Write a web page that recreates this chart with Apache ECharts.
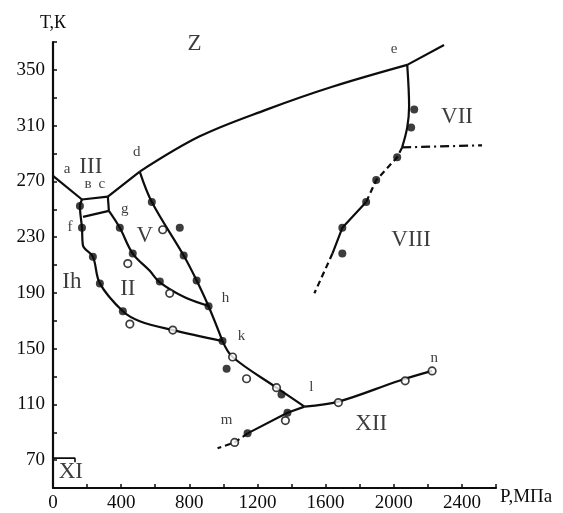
<!DOCTYPE html>
<html><head><meta charset="utf-8">
<script src="https://cdn.jsdelivr.net/npm/echarts@6/dist/echarts.min.js"></script>
<style>html,body{margin:0;padding:0;background:#fff}#c{width:563px;height:513px}</style>
</head><body><div id="c"></div>
<script>
// ---- data (P in MPa, T in K) ----
const xTicks = [0, 400, 800, 1200, 1600, 2000, 2400];
const yTicks = [70, 110, 150, 190, 230, 270, 310, 350];

const lineAB = [[0,274],[170,257]];
const lineBC = [[170,257],[322,259]];
const lineCD = [[322,259],[509,277]];
const lineDE = [[509,277],[861,302.3],[1253,321.5],[1639,337.9],[2079,353.6]];
const lineEEnd = [[2079,353.6],[2295,367.9]];
const lineEDown = [[2079,353.6],[2090,323.7],[2079,308.7],[2049,294.4]];
const lineVIIVIII = [[2049,294.4],[2518,295.9]];
const lineVIIIa = [[2049,294.4],[2020,287.3],[1897,270.9],[1838,255.2]];
const lineVIIIb = [[1838,255.2],[1698,236.7],[1640,218.2]];
const lineVIIIc = [[1640,218.2],[1534,189.7]];
const lineIhII = [[170,257],[158,252.4],[170,236.7],[176,224],[234,216],[275,196.8],[410,176.8],[509,169.7],[703,163.3],[995,155.4]];
const lineFG = [[176,244.5],[328,248.8]];
const lineCG = [[322,259],[328,248.8]];
const lineGH = [[328,248.8],[392,236.7],[468,218.2],[568,205.8],[627,197.5],[773,186.8],[919,180.4]];
const lineDK = [[509,277],[580,255.2],[767,216.8],[843,198.9],[913,180.4],[995,155.4]];
const lineKL = [[995,155.4],[1054,144],[1312,122],[1476,108.4]];
const lineLN = [[1476,108.4],[1675,112],[2032,127],[2225,134]];
const lineLM = [[1476,108.4],[1376,104],[1142,89.2]];
const lineMTail = [[1142,89.2],[1066,82.7],[966,78.5]];
const lineXI = [[0,71.4],[129,71.4],[129,68.5]];

const filledPts = [[158,252.4],[170,236.7],[234,216],[275,196.8],[410,176.8],[995,155.4],
  [580,255.2],[744,236.7],[392,236.7],[468,218.2],[627,198.2],[767,216.8],[843,198.9],[913,180.4],
  [1019,135.5],[1341,117],[1376,104],[1142,89.2],
  [2120,321.5],[2102,308.7],[2020,287.3],[1897,270.9],[1838,255.2],[1698,236.7],[1698,218.2]];
const openPts = [[644,235.3],[439,211],[685,189.7],[451,167.6],[703,163.3],[1054,144],[1136,128.4],
  [1312,122],[1364,98.4],[1066,82.7],[1675,111.3],[2067,126.9],[2225,134]];

const phaseLabels = [['Z',831,368.6],['III',222,280],['V',539,231],['Ih',111,198],['II',439,193],
  ['XII',1868,95.6],['VII',2371,316.5],['VIII',2102,228],['XI',105,61.4]];
const pointLabels = [['a',82,279],['в',205,268],['c',287,268],['d',492,291],['e',2002,365],
  ['g',421,250],['f',100,237.4],['h',1013,186],['k',1107,159],['l',1516,122.7],['m',1019,99],['n',2237,143.3]];

// ---- chart ----
const FONT = 'Liberation Serif';
const INK = '#0d0d0d';
function ln(data, opts) {
  return Object.assign({type:'line', data, symbol:'none', clip:false, silent:true,
    lineStyle:{color:INK, width:2.2}}, opts||{});
}
const smooth = {smooth:0.35};
const series = [
  ln(lineAB), ln(lineBC), ln(lineCD), ln(lineDE, smooth), ln(lineEEnd), ln(lineEDown, smooth),
  ln(lineVIIVIII, {lineStyle:{color:INK, width:2.2, type:[9,4,2,4]}}),
  ln(lineVIIIa, {lineStyle:{color:INK, width:2.2, type:[6,4]}}),
  ln(lineVIIIb),
  ln(lineVIIIc, {lineStyle:{color:INK, width:2.2, type:[6,4]}}),
  ln(lineIhII, smooth), ln(lineFG), ln(lineCG), ln(lineGH, smooth), ln(lineDK, smooth),
  ln(lineKL, smooth), ln(lineLN, smooth), ln(lineLM),
  ln(lineMTail, {lineStyle:{color:INK, width:2.2, type:[6,4]}}),
  ln(lineXI, {lineStyle:{color:INK, width:1.6}}),
  {type:'scatter', data:filledPts, symbol:'circle', symbolSize:8, itemStyle:{color:INK}, silent:true, z:5},
  {type:'scatter', data:openPts, symbol:'circle', symbolSize:7.5, itemStyle:{color:'#fff', borderColor:INK, borderWidth:1.7}, silent:true, z:5},
  {type:'scatter', data:phaseLabels.map(d=>({name:d[0], value:[d[1],d[2]]})), symbolSize:1, clip:false,
    itemStyle:{color:'rgba(0,0,0,0)'}, silent:true, z:6,
    label:{show:true, position:'inside', formatter:p=>p.name, color:INK, fontFamily:FONT, fontSize:23}},
  {type:'scatter', data:pointLabels.map(d=>({name:d[0], value:[d[1],d[2]]})), symbolSize:1, clip:false,
    itemStyle:{color:'rgba(0,0,0,0)'}, silent:true, z:6,
    label:{show:true, position:'inside', formatter:p=>p.name, color:INK, fontFamily:FONT, fontSize:15}}
];

const chart = echarts.init(document.getElementById('c'), null, {renderer:'canvas'});
chart.setOption({
  animation:false,
  backgroundColor:'#fff',
  grid:{left:53, right:67, top:42, bottom:22, containLabel:false},
  xAxis:{type:'value', min:0, max:2600, interval:200,
    name:'P,МПа', nameLocation:'end', nameGap:4,
    nameTextStyle:{fontFamily:FONT, fontSize:19, color:INK, align:'left', verticalAlign:'top'},
    axisLine:{show:true, onZero:false, lineStyle:{color:INK, width:2.2}},
    axisTick:{show:true, inside:true, length:4, lineStyle:{color:INK, width:1.5}},
    splitLine:{show:false},
    axisLabel:{fontFamily:FONT, fontSize:19, color:INK, margin:6,
      formatter:v=>xTicks.includes(v)?String(v):''}},
  yAxis:{type:'value', min:50, max:370, interval:20,
    name:'T,К', nameLocation:'end', nameGap:10,
    nameTextStyle:{fontFamily:FONT, fontSize:18, color:INK, align:'center'},
    axisLine:{show:true, onZero:false, lineStyle:{color:INK, width:2.2}},
    axisTick:{show:true, inside:true, length:4, lineStyle:{color:INK, width:1.5}},
    splitLine:{show:false},
    axisLabel:{fontFamily:FONT, fontSize:19, color:INK, margin:8,
      formatter:v=>yTicks.includes(v)?String(v):''}},
  series
});
</script></body></html>
